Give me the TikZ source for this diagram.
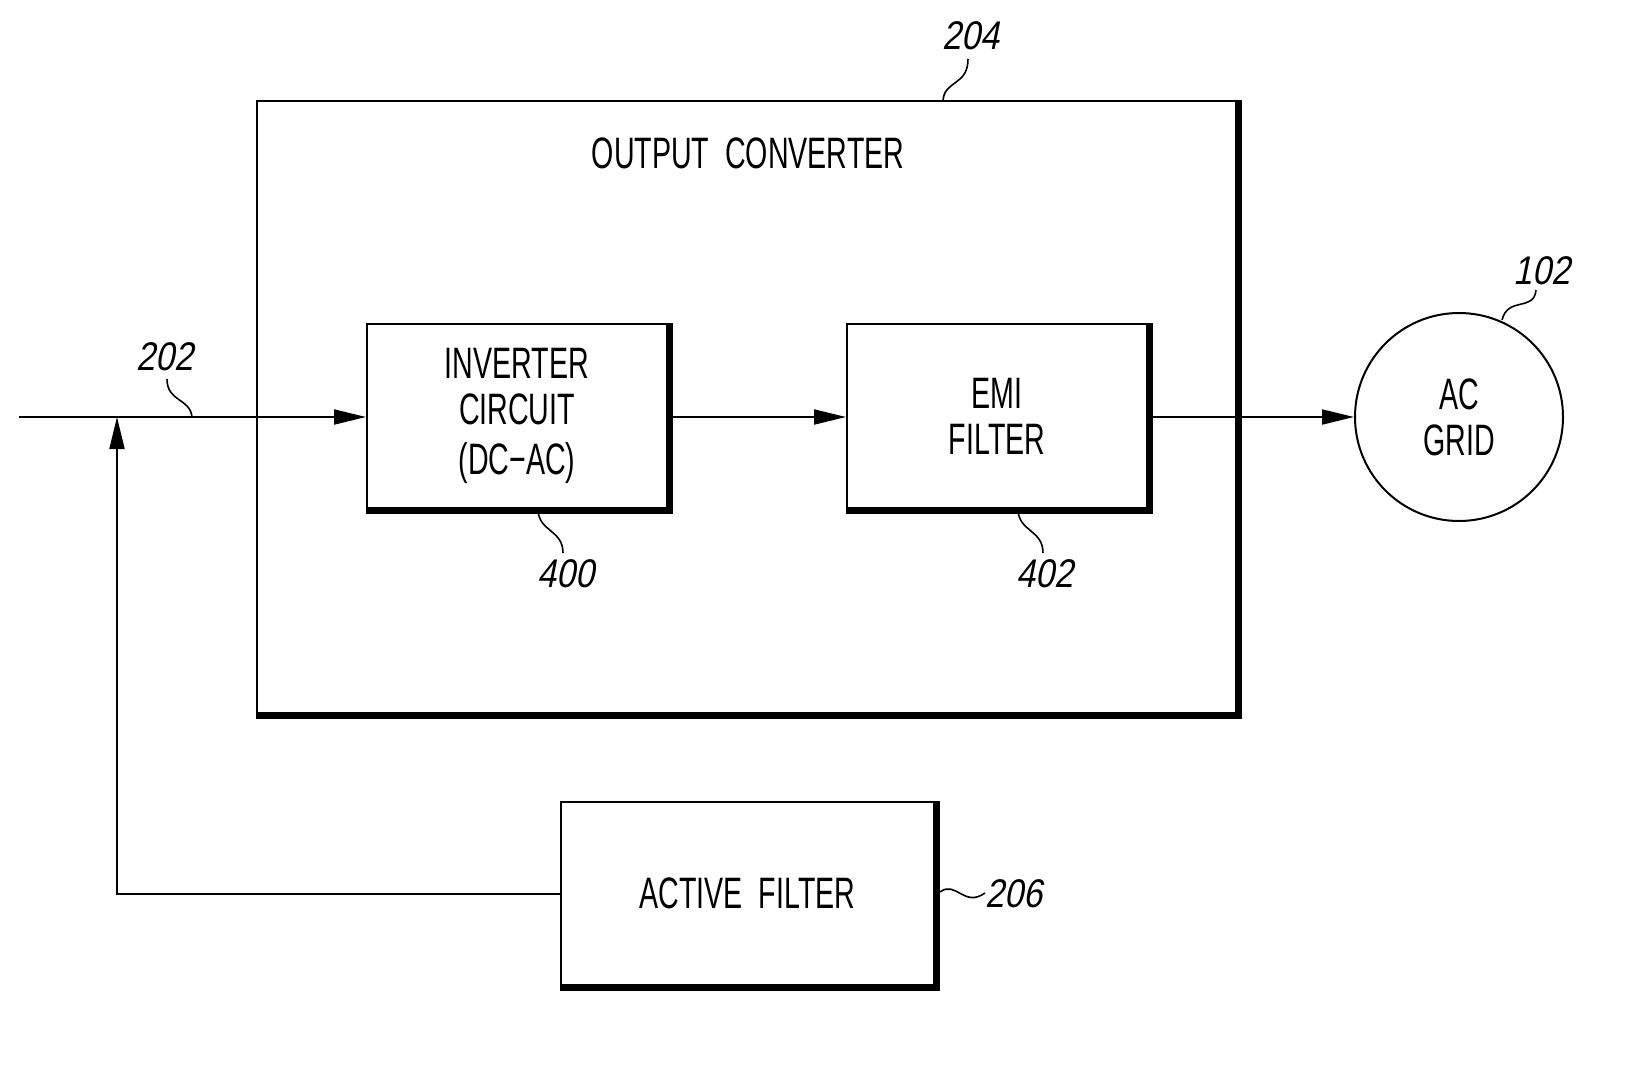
\documentclass[tikz,border=0pt]{standalone}
\usepackage{fontspec}
\setmainfont[FakeStretch=0.65]{Liberation Sans}
\newfontfamily\lblfont[FakeStretch=0.85,FakeSlant=0.2]{Liberation Sans}
\usetikzlibrary{arrows.meta}
\begin{document}
\begin{tikzpicture}[x=1pt,y=-1pt,
  boxtext/.style={font=\fontsize{44}{46}\selectfont, align=center},
  blockbox/.style={draw, line width=2pt, rectangle, inner sep=0pt, boxtext},
  shadowedge/.style={line width=6pt},
  wire/.style={line width=2pt},
  arrowwire/.style={wire, -{Triangle[length=32pt,width=15pt]}},
  leader/.style={line width=1.6pt},
  reflabel/.style={font=\lblfont\fontsize{40}{44}\selectfont, inner sep=0pt}
]
\useasboundingbox (0,0) rectangle (1634,1074);

% outer box
\node[blockbox, minimum width=979pt, minimum height=612pt] (outer) at (746.5,407) {};
\node[boxtext] (title) at (748,153) {OUTPUT\ \ CONVERTER};

% inner blocks
\node[blockbox, minimum width=300pt, minimum height=184pt] (inv) at (517,416)
  {INVERTER\\CIRCUIT\\[4pt](DC−AC)};
\node[blockbox, minimum width=300pt, minimum height=184pt] (emi) at (997,416)
  {EMI\\FILTER};
\node[draw, line width=2pt, circle, minimum size=208pt, inner sep=0pt, boxtext] (grid) at (1459,417)
  {AC\\GRID};
\node[blockbox, minimum width=373pt, minimum height=183pt] (af) at (747.5,893.5)
  {ACTIVE\ \ FILTER};

% shadow edges
\foreach \n in {outer,inv,emi,af}{
  \draw[shadowedge] ([xshift=2pt]\n.north east) -- ([xshift=2pt,yshift=-2pt]\n.south east) -- ([yshift=-2pt]\n.south west);
}

% wires
\coordinate (start) at (19,417);
\coordinate (fb) at (117,417);
\coordinate (fbc) at (117,894);
\draw[arrowwire] (start) -- (inv.west |- start);
\draw[arrowwire] (inv.east |- start) -- (emi.west |- start);
\draw[arrowwire] (emi.east |- start) -- (grid.west);
\draw[arrowwire] (af.west |- fbc) -- (fbc) -- (fb);

% reference labels
\node[reflabel] (l202) at (165,357) {202};
\coordinate (c202) at (192,417);
\draw[leader] (c202) .. controls (190,398) and (167,402) .. (167,379);

\node[reflabel] (l204) at (971,36) {204};
\coordinate (c204) at (943,101);
\draw[leader] (c204) .. controls (944,80) and (968,86) .. (968,59);

\node[reflabel] (l400) at (566,574) {400};
\coordinate (c400) at (538,511);
\draw[leader] (c400) .. controls (540,532) and (563,530) .. (563,553);

\node[reflabel] (l402) at (1045,574) {402};
\coordinate (c402) at (1018,511);
\draw[leader] (c402) .. controls (1020,532) and (1043,530) .. (1043,553);

\node[reflabel] (l102) at (1542,271) {102};
\coordinate (c102) at (1502,320);
\draw[leader] (c102) .. controls (1508,296) and (1534,312) .. (1536,290);

\node[reflabel] (l206) at (1014,894) {206};
\coordinate (c206) at (940,892);
\draw[leader] (c206) .. controls (956,880) and (964,908) .. (985,893);
\end{tikzpicture}
\end{document}
